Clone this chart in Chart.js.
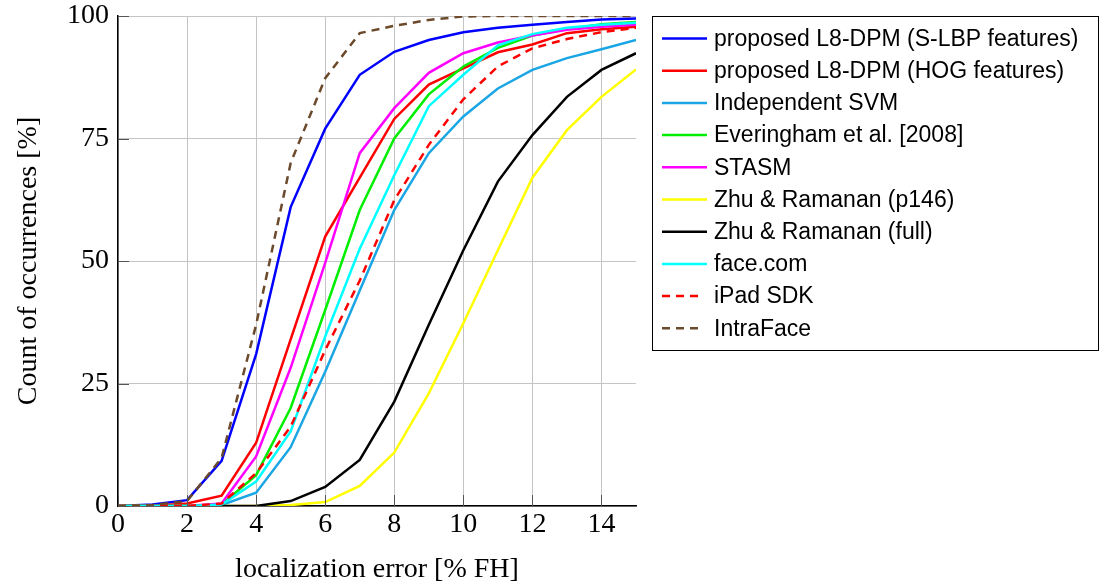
<!DOCTYPE html>
<html>
<head>
<meta charset="utf-8">
<script src="https://cdn.jsdelivr.net/npm/chart.js@4/dist/chart.umd.min.js"></script>
<style>
  html, body { margin: 0; padding: 0; background: #fff; }
  #wrap { width: 1104px; height: 586px; }
</style>
</head>
<body>
<div id="wrap"><canvas id="cedChart" width="1104" height="586"></canvas></div>
<script>
// localization error [% FH] sampled at whole steps
const errors = [0, 1, 2, 3, 4, 5, 6, 7, 8, 9, 10, 11, 12, 13, 14, 15]
const xTicks = [0, 2, 4, 6, 8, 10, 12, 14]
const yTicks = [0, 25, 50, 75, 100]

// cumulative counts [%] per method
const l8SLBP     = [0, 0.3, 1.2, 9.2, 31, 61, 77, 88, 92.7, 95.1, 96.7, 97.6, 98.2, 98.8, 99.3, 99.5]
const l8HOG      = [0, 0, 0.5, 2.1, 12.9, 34, 55, 67, 79, 86, 89.3, 92.6, 94.2, 96.5, 97.3, 97.8]
const indepSVM   = [0, 0, 0, 0.2, 2.7, 12, 27.4, 44, 60.4, 72, 79.5, 85.2, 89, 91.4, 93.2, 95.1]
const everingham = [0, 0, 0, 0.3, 6.3, 20, 40, 60.4, 75, 84, 89.7, 93.5, 96, 97.3, 98.3, 98.8]
const stasm      = [0, 0, 0, 0.5, 10.1, 28.2, 49.6, 72, 81.2, 88.4, 92.4, 94.6, 96, 97.2, 97.8, 98.2]
const zhuP146    = [0, 0, 0, 0, 0, 0.2, 0.8, 4.1, 10.9, 23, 37.3, 52.2, 67, 76.7, 83.5, 89.1]
const zhuFull    = [0, 0, 0, 0, 0, 1, 3.9, 9.4, 21.3, 37, 52.2, 66.2, 75.7, 83.5, 89, 92.4]
const faceCom    = [0, 0, 0, 0.3, 5, 15.2, 34.6, 52.5, 67.5, 81.6, 88, 94, 96.3, 97.6, 98.2, 98.6]
const ipadSDK    = [0, 0, 0, 0.5, 6.7, 16.2, 31.8, 46, 62.4, 73.7, 83, 89.7, 93.4, 95.3, 96.7, 97.6]
const intraFace  = [0, 0.2, 1, 9.8, 37, 70, 87.3, 96.5, 98, 99.2, 99.9, 100, 100, 100, 100, 100]

const series = [
  { label: 'proposed L8-DPM (S-LBP features)', data: l8SLBP, color: '#0000ff' },
  { label: 'proposed L8-DPM (HOG features)', data: l8HOG, color: '#ff0000' },
  { label: 'Independent SVM', data: indepSVM, color: '#1aa6e4' },
  { label: 'Everingham et al. [2008]', data: everingham, color: '#00ee00' },
  { label: 'STASM', data: stasm, color: '#ff00ff' },
  { label: 'Zhu & Ramanan (p146)', data: zhuP146, color: '#ffff00' },
  { label: 'Zhu & Ramanan (full)', data: zhuFull, color: '#000000' },
  { label: 'face.com', data: faceCom, color: '#00ffff' },
  { label: 'iPad SDK', data: ipadSDK, color: '#ff0000', dash: [8, 6] },
  { label: 'IntraFace', data: intraFace, color: '#6b4a2c', dash: [8, 6] },
]

const datasets = series.map((s, i) => ({
  label: s.label,
  data: errors.map((x, j) => ({ x: x, y: s.data[j] })),
  borderColor: s.color,
  backgroundColor: s.color,
  borderWidth: 2.5,
  borderDash: s.dash || [],
  pointRadius: 0,
  tension: 0,
  fill: false,
  // later series sit on top
  order: series.length - i,
}))

const serif = "'Liberation Serif', 'DejaVu Serif', serif"
const sans = "'Liberation Sans', 'DejaVu Sans', sans-serif"

// short inward tick marks along the left and bottom axes
const innerTicks = {
  id: 'innerTicks',
  afterDatasetsDraw(chart) {
    const { ctx, chartArea: a, scales } = chart
    ctx.save()
    ctx.strokeStyle = '#555'
    ctx.lineWidth = 1
    ctx.beginPath()
    yTicks.forEach(v => {
      const y = Math.round(scales.y.getPixelForValue(v)) + 0.5
      ctx.moveTo(a.left, y); ctx.lineTo(a.left + 11, y)
    })
    xTicks.forEach(v => {
      const x = Math.round(scales.x.getPixelForValue(v)) + 0.5
      ctx.moveTo(x, a.bottom); ctx.lineTo(x, a.bottom - 11)
    })
    ctx.stroke()
    ctx.restore()
  }
}

// boxed legend to the right of the plot
const boxLegend = {
  id: 'boxLegend',
  afterDraw(chart) {
    const ctx = chart.ctx
    const left = 652.5, top = 16.5, width = 446, height = 334
    const rowGap = 32.2, firstRow = 38.5
    ctx.save()
    ctx.fillStyle = '#fff'
    ctx.fillRect(left, top, width, height)
    ctx.strokeStyle = '#000'
    ctx.lineWidth = 1
    ctx.strokeRect(left, top, width, height)
    ctx.font = '23px ' + sans
    ctx.textBaseline = 'middle'
    chart.data.datasets.forEach((ds, i) => {
      const y = firstRow + i * rowGap
      ctx.strokeStyle = ds.borderColor
      ctx.lineWidth = 2.5
      ctx.setLineDash(ds.borderDash)
      ctx.beginPath()
      ctx.moveTo(662, y); ctx.lineTo(ds.borderDash.length ? 702 : 707, y)
      ctx.stroke()
      ctx.setLineDash([])
      ctx.fillStyle = '#000'
      ctx.fillText(ds.label, 714, y + 1)
    })
    ctx.restore()
  }
}

new Chart(document.getElementById('cedChart'), {
  type: 'line',
  data: { datasets },
  plugins: [innerTicks, boxLegend],
  options: {
    responsive: false,
    animation: false,
    layout: { padding: { top: 16, right: 468, left: 0, bottom: 0 } },
    plugins: {
      legend: { display: false },
      tooltip: { enabled: false },
    },
    scales: {
      x: {
        type: 'linear',
        min: 0,
        max: 15,
        afterBuildTicks: s => { s.ticks = xTicks.map(v => ({ value: v })) },
        afterFit: s => { s.height = 80 },
        grid: { color: '#c4c4c4', lineWidth: 1, drawTicks: false },
        border: { display: true, color: '#000', width: 1.5 },
        ticks: { color: '#000', font: { family: serif, size: 28 }, padding: 2, maxRotation: 0 },
        title: {
          display: true,
          text: 'localization error [% FH]',
          color: '#000',
          font: { family: serif, size: 28 },
          padding: { top: 4, bottom: 0 },
        },
      },
      y: {
        type: 'linear',
        min: 0,
        max: 100,
        afterBuildTicks: s => { s.ticks = yTicks.map(v => ({ value: v })) },
        // fixed width, and let the "100" label hang above the plot
        afterFit: s => { s.width = 118; s.paddingTop = 0; s.paddingBottom = 0 },
        grid: { color: '#c4c4c4', lineWidth: 1, drawTicks: false },
        border: { display: true, color: '#000', width: 1.5 },
        ticks: { color: '#000', font: { family: serif, size: 28 }, padding: 9 },
        title: {
          display: true,
          text: 'Count of occurrences [%]',
          color: '#000',
          font: { family: serif, size: 28 },
          padding: { top: 12, bottom: 0 },
        },
      },
    },
  },
})
</script>
</body>
</html>
